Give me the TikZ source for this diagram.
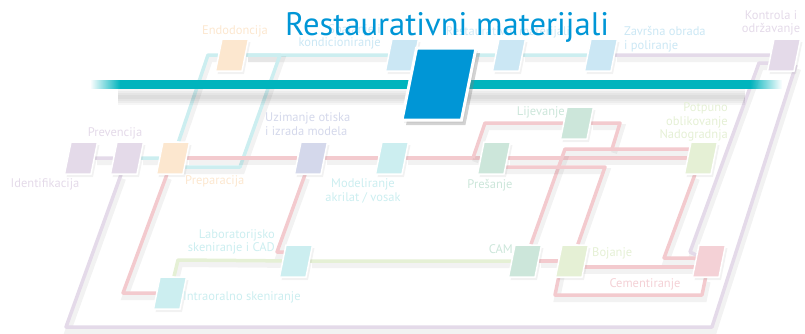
\documentclass[tikz,border=0pt]{standalone}
\usepackage{fontspec}
\setmainfont{PT Sans}
\usetikzlibrary{shapes.geometric,shadows,fadings}
\definecolor{lila}{HTML}{E4DAE9}
\definecolor{breskva}{HTML}{FCE7CF}
\definecolor{lavanda}{HTML}{D4D8EB}
\definecolor{tirkiz}{HTML}{CCEEF0}
\definecolor{nebo}{HTML}{CBE7F4}
\definecolor{menta}{HTML}{CCE6DA}
\definecolor{limeta}{HTML}{E5F0D5}
\definecolor{roza}{HTML}{F4D1D6}
\definecolor{crvena}{HTML}{F3CACE}
\definecolor{petrolej}{HTML}{00B4BD}
\definecolor{plava}{HTML}{0096D6}
\pgfdeclarelayer{bg}
\pgfsetlayers{bg,main}
\tikzset{
 stanica/.style={trapezium,trapezium left angle=72,trapezium right angle=108,
  trapezium stretches=true,minimum width=33pt,minimum height=32pt,inner sep=1pt,
  fill=#1,draw=white,line width=1.5pt,
  drop shadow={opacity=0.1,shadow xshift=2pt,shadow yshift=-3pt}},
 linija/.style={line width=3.5pt,draw=#1,line join=round,
  preaction={draw=black,opacity=0.05,line width=6pt,transform canvas={shift={(2pt,-4pt)}}}},
 natpis/.style={text=#1,inner sep=0pt,font=\fontsize{12.5}{13.5}\selectfont},
}
\begin{document}
\begin{tikzpicture}[x=1pt,y=-1pt]
\useasboundingbox (0,0) rectangle (805,333);
% stanice
\node[stanica=lila](Id)at(81,158){};
\node[stanica=lila](Pv)at(127,158){};
\node[stanica=breskva](Pp)at(173,158){};
\node[stanica=breskva](En)at(232,55){};
\node[stanica=nebo](Sk)at(402,55){};
\node[stanica=nebo](Rm)at(509,55){};
\node[stanica=nebo](Zo)at(601,55){};
\node[stanica=lila](Ko)at(784,55){};
\node[stanica=lavanda](Uz)at(311,158){};
\node[stanica=tirkiz](Mo)at(392,158){};
\node[stanica=menta](Pr)at(494,158){};
\node[stanica=menta](Li)at(577,123){};
\node[stanica=limeta](Na)at(701,158){};
\node[stanica=tirkiz](Ls)at(296,261){};
\node[stanica=tirkiz](Io)at(170,293){};
\node[stanica=menta](Ca)at(525,261){};
\node[stanica=limeta](Bo)at(572,261){};
\node[stanica=roza](Ce)at(709,261){};
% linije
\begin{pgfonlayer}{bg}
\draw[linija=lila](Id)--(Pv)--(66,327)--(712,327)--([xshift=12pt,yshift=-10pt]Ko.center);
\draw[linija=lila](Zo)--(Ko)([yshift=-8pt]Ko.center)--(759,63)--(690,252)--(Ce);
\draw[linija=tirkiz](Pv)--(Pp)--(208,55)--(En)--(Sk)--(Rm)--(Zo);
\draw[linija=tirkiz](En)--(280,55)--(240,167)--(180,167);
\draw[linija=crvena](Pp)--(Uz)--(Mo)--(Pr)--(Na);
\draw[linija=crvena](473,158)--(485,123)--(Li)--(620,123)--(612,149);
\draw[linija=crvena]([yshift=9pt]Na.center)--(565,149)--(Ca);
\draw[linija=crvena]([yshift=-9pt]Pr.center)--(605,167)--(Bo);
\draw[linija=crvena](Na)--(664,258)--([yshift=3pt]Ce.center);
\draw[linija=crvena](Ca)--(Bo)([yshift=-6pt]Bo.center)--([yshift=-6pt]Ce.center);
\draw[linija=crvena]([xshift=-10pt]Bo.center)--(555,295)--(702,295)--(Ce);
\draw[linija=crvena](Pp)--(123,293)--(Io);
\draw[linija=crvena](Uz)--(277,252)--(292,252);
\draw[linija=limeta](Io)--(178,260)--(Ls)--(Ca);
% traka
\foreach \w in {16,12,8,4}
\draw[line width=\w pt,black,opacity=0.035](118,97)--(745,97);
\fill[petrolej,path fading=west](90,79.5)rectangle(120,88.5);
\fill[petrolej](119.5,79.5)rectangle(750.5,88.5);
\fill[petrolej,path fading=east](750,79.5)rectangle(782,88.5);
\end{pgfonlayer}
\node[stanica=plava,minimum width=74pt,minimum height=72pt,line width=3pt,
 drop shadow={opacity=0.35,shadow xshift=4pt,shadow yshift=-5pt}](M)at(439,84){};
% natpisi
\node[natpis=lila](tId)at(45,184){Identifikacija};
\node[natpis=lila](tPv)at(115,133){Prevencija};
\node[natpis=breskva,anchor=west](tPp)at(185,181){Preparacija};
\node[natpis=breskva](tEn)at(235,31){Endodoncija};
\node[natpis=nebo,anchor=east,align=right](tSk)at(381,37){Spajanje i\\kondicioniranje};
\node[natpis=nebo](tRm)at(508,32){Restaurativni materijali};
\node[natpis=nebo,anchor=west,align=left](tZo)at(624,39){Završna obrada\\i poliranje};
\node[natpis=lila,align=center](tKo)at(771,23){Kontrola i\\održavanje};
\node[natpis=lavanda,anchor=west,align=left](tUz)at(265,124){Uzimanje otiska\\i izrada modela};
\node[natpis=menta,anchor=east](tLi)at(565,112){Lijevanje};
\node[natpis=limeta,anchor=east,align=right](tNa)at(728,122){Potpuno\\oblikovanje\\Nadogradnja};
\node[natpis=tirkiz,align=center](tMo)at(363,191){Modeliranje\\akrilat / vosak};
\node[natpis=menta](tPr)at(490,185){Prešanje};
\node[natpis=tirkiz,anchor=east,align=right](tLs)at(275,242){Laboratorijsko\\skeniranje i CAD};
\node[natpis=tirkiz,anchor=west](tIo)at(183,297){Intraoralno skeniranje};
\node[natpis=menta,anchor=east](tCa)at(513,249){CAM};
\node[natpis=limeta,anchor=west](tBo)at(592,253){Bojanje};
\node[natpis=roza](tCe)at(645,284){Cementiranje};
\node[text=plava,inner sep=0pt,anchor=base west,font=\fontsize{32.6}{33}\selectfont](T)at(285,35){Restaurativni materijali};
\end{tikzpicture}
\end{document}
